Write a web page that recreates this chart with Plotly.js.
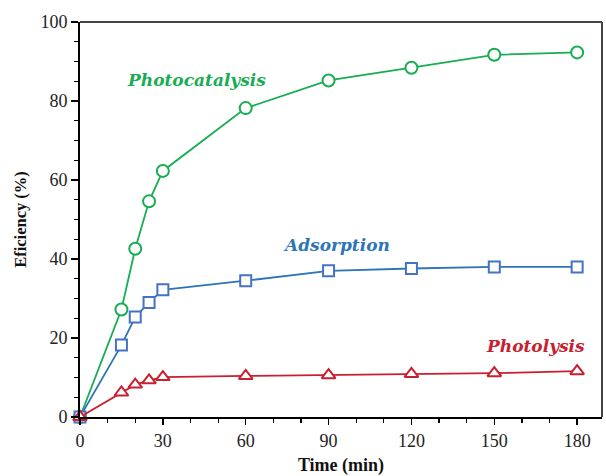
<!DOCTYPE html>
<html><head><meta charset="utf-8">
<script src="https://cdn.plot.ly/plotly-3.0.1.min.js"></script>
<style>html,body{margin:0;padding:0;background:#fff;}#chart{width:606px;height:476px;}</style>
</head><body><div id="chart"></div>
<script>
const time = [0, 15, 20, 25, 30, 60, 90, 120, 150, 180];
const photocatalysis = [0, 27.2, 42.6, 54.6, 62.3, 78.2, 85.2, 88.4, 91.7, 92.3];
const adsorption = [0, 18.2, 25.3, 29.0, 32.2, 34.5, 37.0, 37.6, 38.0, 38.0];
const photolysis = [0, 6.2, 8.2, 9.3, 10.1, 10.4, 10.6, 10.9, 11.1, 11.6];
const seriesNames = ['Photocatalysis', 'Adsorption', 'Photolysis'];
const xTicks = [0, 30, 60, 90, 120, 150, 180];
const yTicks = [0, 20, 40, 60, 80, 100];

const green = '#17ad52', blue = '#2e75b6', blueM = '#4472c4', red = '#c8202f';
function tr(y, name, color, mcolor, symbol, size) {
  return {x: time, y: y, name: name, type: 'scatter', mode: 'lines+markers',
    line: {color: color, width: 1.8},
    marker: {symbol: symbol, size: size, color: '#fff', line: {color: mcolor, width: 2}},
    cliponaxis: false};
}
const data = [
  tr(photocatalysis, seriesNames[0], green, green, 'circle', 12),
  tr(adsorption, seriesNames[1], blue, blueM, 'square', 11),
  tr(photolysis, seriesNames[2], red, red, 'triangle-up', 12)
];

const lblFont = (c) => ({family: 'DejaVu Serif', size: 17, color: c, weight: 'bold', style: 'italic'});
const layout = {
  width: 606, height: 476,
  margin: {l: 80, r: 4, t: 22, b: 59},
  paper_bgcolor: '#fff', plot_bgcolor: '#fff',
  showlegend: false,
  font: {family: 'Liberation Serif', color: '#222'},
  xaxis: {range: [0, 189], tickvals: xTicks, ticktext: xTicks.map(String),
    ticks: 'outside', ticklen: 6, tickwidth: 1.5, tickcolor: '#000',
    minor: {dtick: 10, tick0: 0, ticks: 'outside', ticklen: 4, tickcolor: '#000', tickwidth: 1.2},
    showgrid: false, zeroline: false, showline: true, linecolor: '#000', linewidth: 2,
    mirror: false, tickfont: {size: 18, family: 'Liberation Serif', color: '#222'},
    title: {text: '<b>Time (min)</b>', font: {size: 18, family: 'Liberation Serif', color: '#111'}, standoff: 9}},
  yaxis: {range: [0, 100], tickvals: yTicks, ticktext: yTicks.map(String),
    ticks: 'outside', ticklen: 7, tickwidth: 1.5, tickcolor: '#000',
    minor: {dtick: 5, tick0: 0, ticks: 'outside', ticklen: 4, tickcolor: '#000', tickwidth: 1.2},
    showgrid: false, zeroline: false, showline: true, linecolor: '#000', linewidth: 2,
    tickfont: {size: 18, family: 'Liberation Serif', color: '#222'},
    title: {text: '<b>Eficiency (%)</b>', font: {size: 16.5, family: 'Liberation Serif', color: '#111'}, standoff: 10}},
  shapes: [
    {type: 'line', xref: 'paper', yref: 'paper', x0: 0, x1: 1, y0: 1, y1: 1, line: {color: '#444', width: 2}},
    {type: 'line', xref: 'paper', yref: 'paper', x0: 1, x1: 1, y0: 0, y1: 1, line: {color: '#444', width: 2}}
  ],
  annotations: [
    {x: 42, y: 85.3, xref: 'x', yref: 'y', text: seriesNames[0], showarrow: false, font: lblFont(green)},
    {x: 93, y: 43.5, xref: 'x', yref: 'y', text: seriesNames[1], showarrow: false, font: lblFont(blue)},
    {x: 164.8, y: 18, xref: 'x', yref: 'y', text: seriesNames[2], showarrow: false, font: lblFont(red)}
  ]
};
Plotly.newPlot('chart', data, layout, {staticPlot: true, displayModeBar: false});
</script></body></html>
